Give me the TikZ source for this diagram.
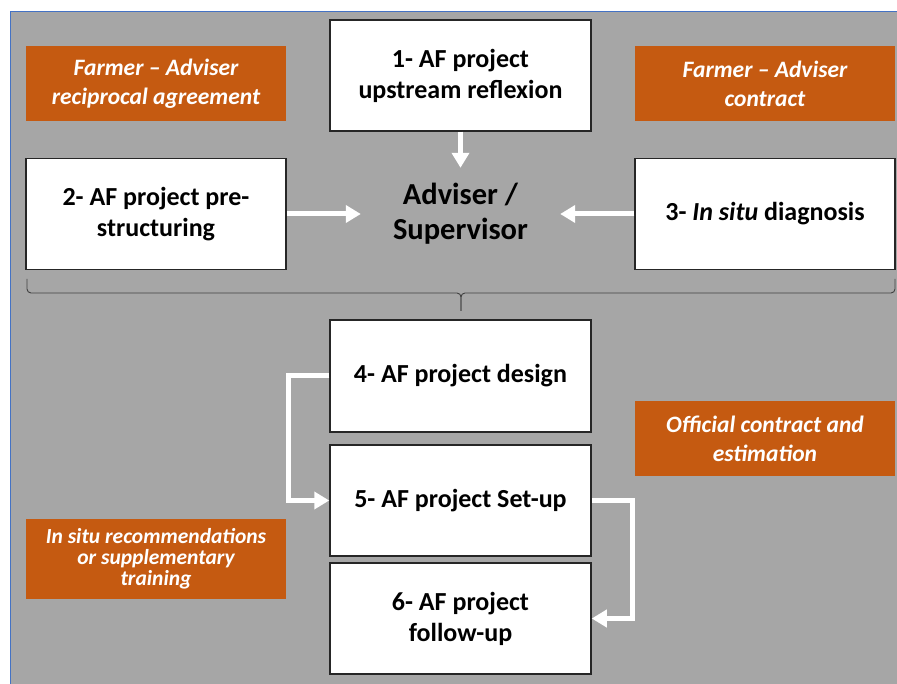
\documentclass[tikz,border=0pt]{standalone}
\usepackage{fontspec}
\setmainfont{Carlito}
\usetikzlibrary{arrows.meta}
\definecolor{bggray}{RGB}{166,166,166}
\definecolor{rust}{RGB}{197,90,17}
\definecolor{frameblue}{RGB}{68,114,196}

\begin{document}
\begin{tikzpicture}[y=-1pt,x=1pt]
            \tikzset{
                stepbox/.style={draw=black!85,line width=1.5pt,fill=white,minimum width=261pt,minimum height=111pt,align=center,font=\bfseries\fontsize{26}{31}\selectfont},
                notebox/.style={fill=rust,text=white,minimum width=260pt,minimum height=75pt,align=center,font=\bfseries\itshape\fontsize{23.5}{29}\selectfont},
                flow/.style={-{Triangle[width=17pt,length=15pt]},white,line width=5pt},
                braceline/.style={black!75,line width=0.9pt,rounded corners=4pt}
            }
            \useasboundingbox (0,0) rectangle (897,684);
            \fill[bggray] (10,12) rectangle (897,684);
            \draw[frameblue,line width=1pt] (897,12) -- (10,12) -- (10,684);

            \node[notebox] (n1) at (156,84) {Farmer -- Adviser\\reciprocal agreement};
            \node[notebox] (n2) at (765,84) {Farmer -- Adviser\\contract};
            \node[notebox] (n3) at (765,438.5) {Official contract and\\estimation};
            \node[notebox,minimum height=80pt,font=\bfseries\itshape\fontsize{21.5}{21}\selectfont] (n4) at (156,559) {In situ recommendations\\or supplementary\\training};

            \node[stepbox] (s1) at (460.5,75.5) {1- AF project\\upstream reflexion};
            \node[stepbox,minimum width=260pt] (s2) at (156,214) {2- AF project pre-\\structuring};
            \node[stepbox,minimum width=260pt] (s3) at (765,214) {3- \textit{In situ} diagnosis};
            \node[minimum width=199pt,minimum height=92pt,align=center,font=\bfseries\fontsize{30.5}{35}\selectfont] (hub) at (460.5,214) {Adviser /\\Supervisor};

            \node[stepbox,minimum height=112pt] (s4) at (460.5,376) {4- AF project design};
            \node[stepbox] (s5) at (460.5,500.5) {5- AF project Set-up};
            \node[stepbox] (s6) at (460.5,618.5) {6- AF project\\follow-up};

            \foreach \s in {s1,s2,s3}{
                    \draw[flow] (\s) -- (hub);
                }
            \draw[flow] (s4.west) -- ++(-41,0) |- (s5.west);
            \draw[flow] (s5.east) -- ++(41,0) |- (s6.east);

            % brace under the first three steps
            \coordinate (bl) at (27,279);
            \coordinate (br) at (895,279);
            \coordinate (mid) at (461,293);
            \coordinate (tip) at (461,311);
            \draw[braceline] (bl) |- (mid) -- (tip);
            \draw[braceline] (br) |- (mid) -- (tip);
        \end{tikzpicture}
\end{document}
